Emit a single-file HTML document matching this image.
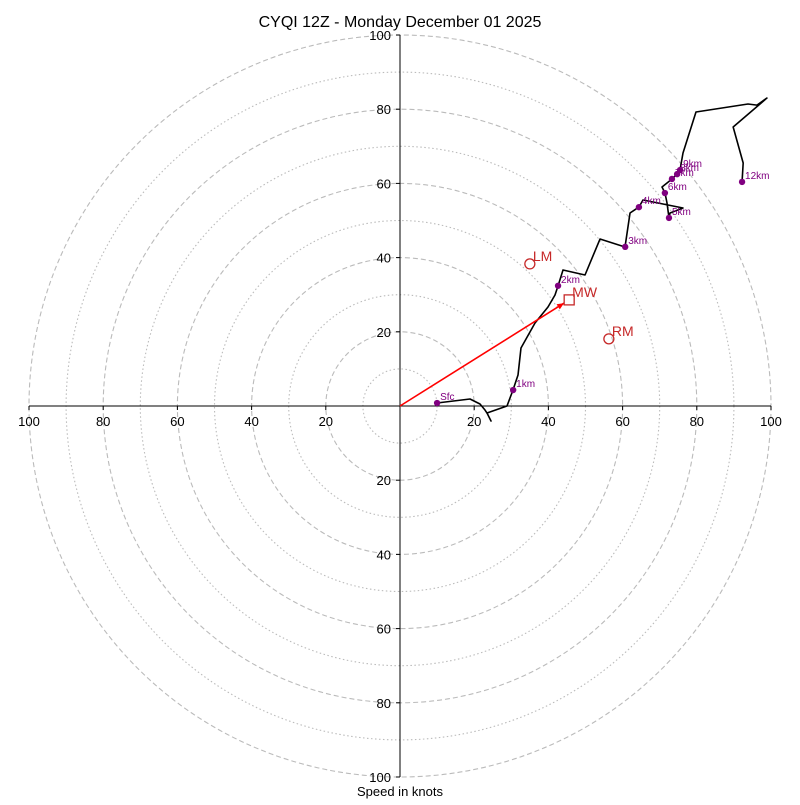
<!DOCTYPE html>
<html><head><meta charset="utf-8"><style>
body{margin:0;background:#fff}
svg text{font-family:"Liberation Sans","DejaVu Sans",sans-serif}
</style></head><body>
<svg id="chart" width="800" height="800" viewBox="0 0 800 800" xmlns="http://www.w3.org/2000/svg">
<rect width="800" height="800" fill="#fff"/>
<text x="400" y="27" font-size="16" text-anchor="middle">CYQI 12Z - Monday December 01 2025</text>
<text x="400" y="796" font-size="13" text-anchor="middle">Speed in knots</text>
<g id="rings"></g><g id="axes"></g><g id="trace"></g><g id="marks"></g>
</svg>
<script>
const ringValues=[10,20,30,40,50,60,70,80,90,100];
const tickLabels=[20,40,60,80,100];
const traceU=[9.97,18.87,21.56,22.91,23.45,24.53,23.45,28.84,30.46,31.81,32.61,36.39,39.89,41.78,42.59,43.94,49.87,53.91,60.65,62.0,64.42,65.5,76.28,72.78,72.51,71.97,71.43,70.62,73.32,74.66,75.47,76.28,79.78,93.8,96.2,98.9,89.8,92.5,92.2];
const traceV=[0.81,1.89,0.54,-1.08,-1.89,-4.04,-1.89,0,4.31,8.36,15.63,22.37,26.68,29.92,32.35,36.66,35.31,45.01,42.86,52.02,53.64,55.53,53.37,52.02,50.67,54.72,57.41,59.03,61.19,62.53,63.61,68.19,79.25,81.4,81.1,83.0,75.2,65.5,60.4];
const heightLabels=["Sfc","1km","2km","3km","4km","5km","6km","7km","8km","9km","12km"];
const heightU=[10,30.5,42.6,60.7,64.4,72.5,71.4,73.3,74.7,75.5,92.2];
const heightV=[0.8,4.3,32.4,42.9,53.6,50.7,57.4,61.2,62.5,63.6,60.4];
const motionLabels=["LM","RM","MW"];
const motionU=[35.0,56.3,45.6];
const motionV=[38.3,18.1,28.6];
const CX=400,CY=406,S=3.71;
const sx=u=>CX+u*S, sy=v=>CY-v*S;
const NS="http://www.w3.org/2000/svg";
function mk(tag,attrs,parent,txt){const e=document.createElementNS(NS,tag);for(const k in attrs)e.setAttribute(k,attrs[k]);if(txt!==undefined)e.textContent=txt;document.getElementById(parent).appendChild(e);return e;}
ringValues.forEach(r=>{
 const c=mk('circle',{cx:CX,cy:CY,r:r*S,fill:'none',stroke:'#bbb','stroke-width':1.1,'stroke-dasharray':r%20===0?'5,3':'1.5,2.5'},'rings');
 
 
});
let l=mk('line',{x1:sx(-100),y1:CY,x2:sx(100),y2:CY,stroke:'#000','stroke-width':1},'axes');


l=mk('line',{x1:CX,y1:sy(100),x2:CX,y2:sy(-100),stroke:'#000','stroke-width':1},'axes');


tickLabels.forEach(t=>{
 [-1,1].forEach(s=>{
  let tx=mk('text',{x:sx(s*t),y:CY+20,'font-size':13,'text-anchor':'middle'},'axes',String(t));
  
  
  mk('line',{x1:sx(s*t),y1:CY,x2:sx(s*t),y2:CY+4,stroke:'#000'},'axes');
  let ty=mk('text',{x:CX-9,y:sy(s*t)+5,'font-size':13,'text-anchor':'end'},'axes',String(t));
  
  
  mk('line',{x1:CX-4,y1:sy(s*t),x2:CX,y2:sy(s*t),stroke:'#000'},'axes');
 });
});
const p=mk('polyline',{points:traceU.map((u,i)=>sx(u)+','+sy(traceV[i])).join(' '),fill:'none',stroke:'#000','stroke-width':1.6,'stroke-linejoin':'round'},'trace');


// mean wind arrow
const mwx=sx(motionU[2]),mwy=sy(motionV[2]);
const ang=Math.atan2(mwy-CY,mwx-CX);const ex=mwx-6*Math.cos(ang),ey=mwy-6*Math.sin(ang);
const ar=mk('line',{x1:CX,y1:CY,x2:ex,y2:ey,stroke:'red','stroke-width':1.6},'marks');


mk('polygon',{points:`${ex},${ey} ${ex-7*Math.cos(ang)+3*Math.sin(ang)},${ey-7*Math.sin(ang)-3*Math.cos(ang)} ${ex-7*Math.cos(ang)-3*Math.sin(ang)},${ey-7*Math.sin(ang)+3*Math.cos(ang)}`,fill:'red'},'marks');
heightLabels.forEach((h,i)=>{
 const c=mk('circle',{cx:sx(heightU[i]),cy:sy(heightV[i]),r:3.2,fill:'purple'},'marks');
 
 
 const t=mk('text',{x:sx(heightU[i])+3,y:sy(heightV[i])-3,'font-size':10,fill:'purple'},'marks',h);
 
 
});
motionLabels.forEach((m,i)=>{
 const x=sx(motionU[i]),y=sy(motionV[i]);
 const s=m==='MW'?mk('rect',{x:x-5,y:y-5,width:10,height:10,fill:'none',stroke:'#c62828','stroke-width':1.3},'marks'):mk('circle',{cx:x,cy:y,r:5,fill:'none',stroke:'#c62828','stroke-width':1.3},'marks');
 
 
 const t=mk('text',{x:x+3,y:y-3,'font-size':14,fill:'#c62828'},'marks',m);
 
 
});
</script>
</body></html>
